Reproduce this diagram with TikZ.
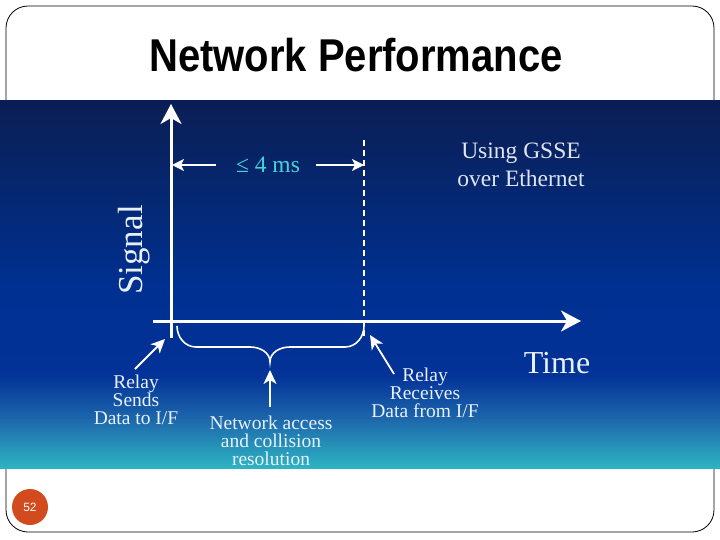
\documentclass[tikz,border=0pt]{standalone}
\usepackage{fontspec}
\setmainfont{Liberation Serif}
\newfontfamily\titlefont{Liberation Sans}
\usetikzlibrary{arrows.meta}
\definecolor{bgA}{RGB}{10,30,85}
\definecolor{bgB}{RGB}{5,40,115}
\definecolor{bgC}{RGB}{0,48,145}
\definecolor{bgD}{RGB}{3,50,152}
\definecolor{bgE}{RGB}{30,105,172}
\definecolor{bgF}{RGB}{45,180,195}
\definecolor{txtW}{RGB}{232,240,250}
\definecolor{txtC}{RGB}{70,210,220}
\definecolor{pgnum}{RGB}{210,75,30}
\tikzset{
  axis/.style={draw=white, line width=3pt, -{Stealth[length=20pt,width=21pt,inset=6pt]}},
  dimarrow/.style={draw=white, line width=1.8pt, -{Stealth[length=12pt,width=12pt,inset=3pt]}},
  annarrow/.style={draw=white, line width=1.8pt, -{Stealth[length=14pt,width=13pt,inset=4pt]}},
  lbl/.style={text=txtW, align=center, font=\fontsize{19.5}{18}\selectfont, inner sep=0pt},
}
\begin{document}
\begin{tikzpicture}[x=1pt,y=-1pt]
\useasboundingbox (0,0) rectangle (720,540);
\fill[white] (0,0) rectangle (720,540);
% frame
\draw[black, line width=0.8pt, rounded corners=22pt] (6,6) rectangle (714,532);
% background gradient
\shade[top color=bgA, bottom color=bgB, draw=none] (0,101) rectangle (720,201);
\shade[top color=bgB, bottom color=bgC, draw=none] (0,200) rectangle (720,286);
\shade[top color=bgC, bottom color=bgD, draw=none] (0,285) rectangle (720,376);
\shade[top color=bgD, bottom color=bgE, draw=none] (0,375) rectangle (720,421);
\shade[top color=bgE, bottom color=bgF, draw=none] (0,420) rectangle (720,468);
% title
\node[inner sep=0pt, xscale=0.87] (title) at (356,55) {\titlefont\bfseries\fontsize{46}{46}\selectfont Network Performance};
% axes
\coordinate (yb) at (171,338);
\coordinate (yt) at (171,104);
\coordinate (xl) at (153,321);
\coordinate (xr) at (581,321);
\draw[axis] (yb) -- (yt);
\draw[axis] (xl) -- (xr);
% dashed line
\coordinate (dt) at (364,140);
\coordinate (db) at (364,336);
\draw[white, line width=1.5pt, dash pattern=on 6pt off 4pt] (dt) -- (db);
% <= 4 ms
\node[text=txtC, inner sep=0pt, font=\fontsize{23.5}{23.5}\selectfont] (ms) at (268,165) {≤ 4 ms};
\coordinate (la) at (172,165);
\coordinate (ra) at (364,165);
\draw[dimarrow] (ms.west) ++(-20,0) -- (la);
\draw[dimarrow] (ms.east) ++(16,0) -- (ra);
% labels
\node[text=txtW, rotate=90, inner sep=0pt, font=\fontsize{35}{35}\selectfont] (signal) at (134,250) {Signal};
\node[lbl, font=\fontsize{23.5}{28}\selectfont, text=txtW!90!gray] (gsse) at (521,165) {Using GSSE\\over Ethernet};
\node[text=txtW, inner sep=0pt, font=\fontsize{32}{32}\selectfont] (time) at (557,363) {Time};
% brace
\draw[white, line width=1.6pt] (177,326) to[out=-90,in=180] (196,347) -- (250,347) to[out=0,in=90] (270,362)
  to[out=90,in=180] (290,347) -- (345,347) to[out=0,in=-90] (364,326);
\coordinate (btip) at (270,370);
% annotations
\node[lbl] (sends) at (136,400) {Relay\\Sends\\Data to I/F};
\node[lbl] (net) at (271,441) {Network access\\and collision\\resolution};
\node[lbl] (recv) at (425,393) {Relay\\Receives\\Data from I/F};
\coordinate (sendsTip) at (165,339);
\coordinate (recvTip) at (370,335);
\draw[annarrow] (135,369) -- (sendsTip);
\draw[annarrow] (270,407) -- (btip);
\draw[annarrow] (394,374) -- (recvTip);
% page number
\fill[pgnum] (30,507) circle[radius=18];
\node[text=white, inner sep=0pt, font=\titlefont\fontsize{12}{12}\selectfont] (pg) at (30,507) {52};
\end{tikzpicture}
\end{document}
